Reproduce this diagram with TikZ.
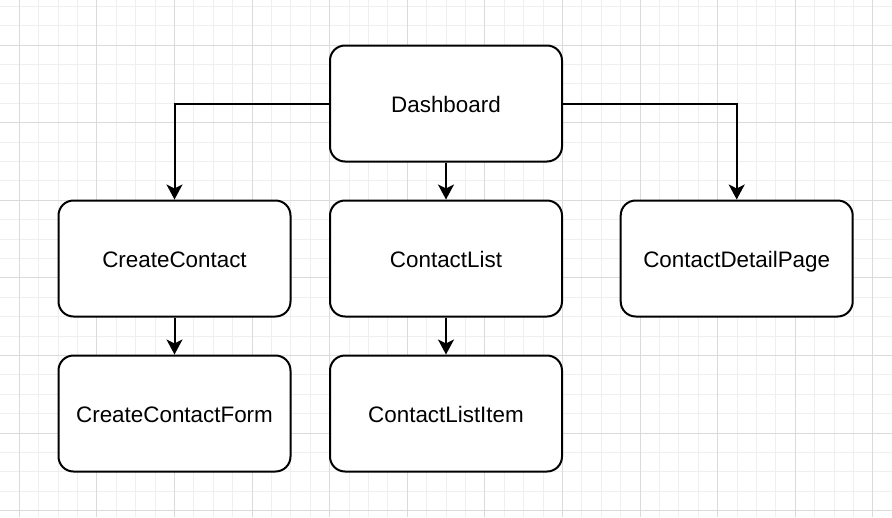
\documentclass[tikz,border=0pt]{standalone}
\usepackage{fontspec}
\setmainfont{Liberation Sans}
\usetikzlibrary{arrows.meta}
\definecolor{gridminor}{HTML}{EFEFEF}
\definecolor{gridmajor}{HTML}{DADADA}
\tikzset{
  minorline/.style={draw=gridminor, line width=1pt},
  majorline/.style={draw=gridmajor, line width=1pt},
  box/.style={draw=black, fill=white, line width=2pt, rounded corners=15pt,
    minimum width=232pt, minimum height=116pt, inner sep=0pt,
    text height=21pt, text depth=3pt,
    font=\fontsize{22.4pt}{26pt}\selectfont},
  conn/.style={draw=black, line width=2pt,
    -{Stealth[length=15pt,width=16pt,inset=4pt]}}
}
\begin{document}
\begin{tikzpicture}[x=1pt,y=-1pt]
\useasboundingbox (0,0) rectangle (892,517);
\fill[white] (0,0) rectangle (892,517);
\begin{scope}
\clip (0,0) rectangle (892,517);
\foreach \xx in {-0.1,19.3,...,900} { \draw[minorline] (\xx,0) -- (\xx,517); }
\foreach \yy in {6.2,25.6,...,530} { \draw[minorline] (0,\yy) -- (892,\yy); }
\foreach \xx in {19.3,96.9,...,900} { \draw[majorline] (\xx,0) -- (\xx,517); }
\foreach \yy in {45,122.6,...,530} { \draw[majorline] (0,\yy) -- (892,\yy); }
\end{scope}

\node[box] (dash) at (446,103.5) {Dashboard};
\node[box] (cc) at (174.5,258.5) {CreateContact};
\node[box] (cl) at (446,258.5) {ContactList};
\node[box] (cdp) at (736.7,258.5) {ContactDetailPage};
\node[box] (ccf) at (174.5,413.5) {CreateContactForm};
\node[box] (cli) at (446,413.5) {ContactListItem};

\draw[conn] (dash.west) -| (cc.north);
\draw[conn] (dash.south) -- (cl.north);
\draw[conn] (dash.east) -| (cdp.north);
\draw[conn] (cc.south) -- (ccf.north);
\draw[conn] (cl.south) -- (cli.north);
\end{tikzpicture}
\end{document}
